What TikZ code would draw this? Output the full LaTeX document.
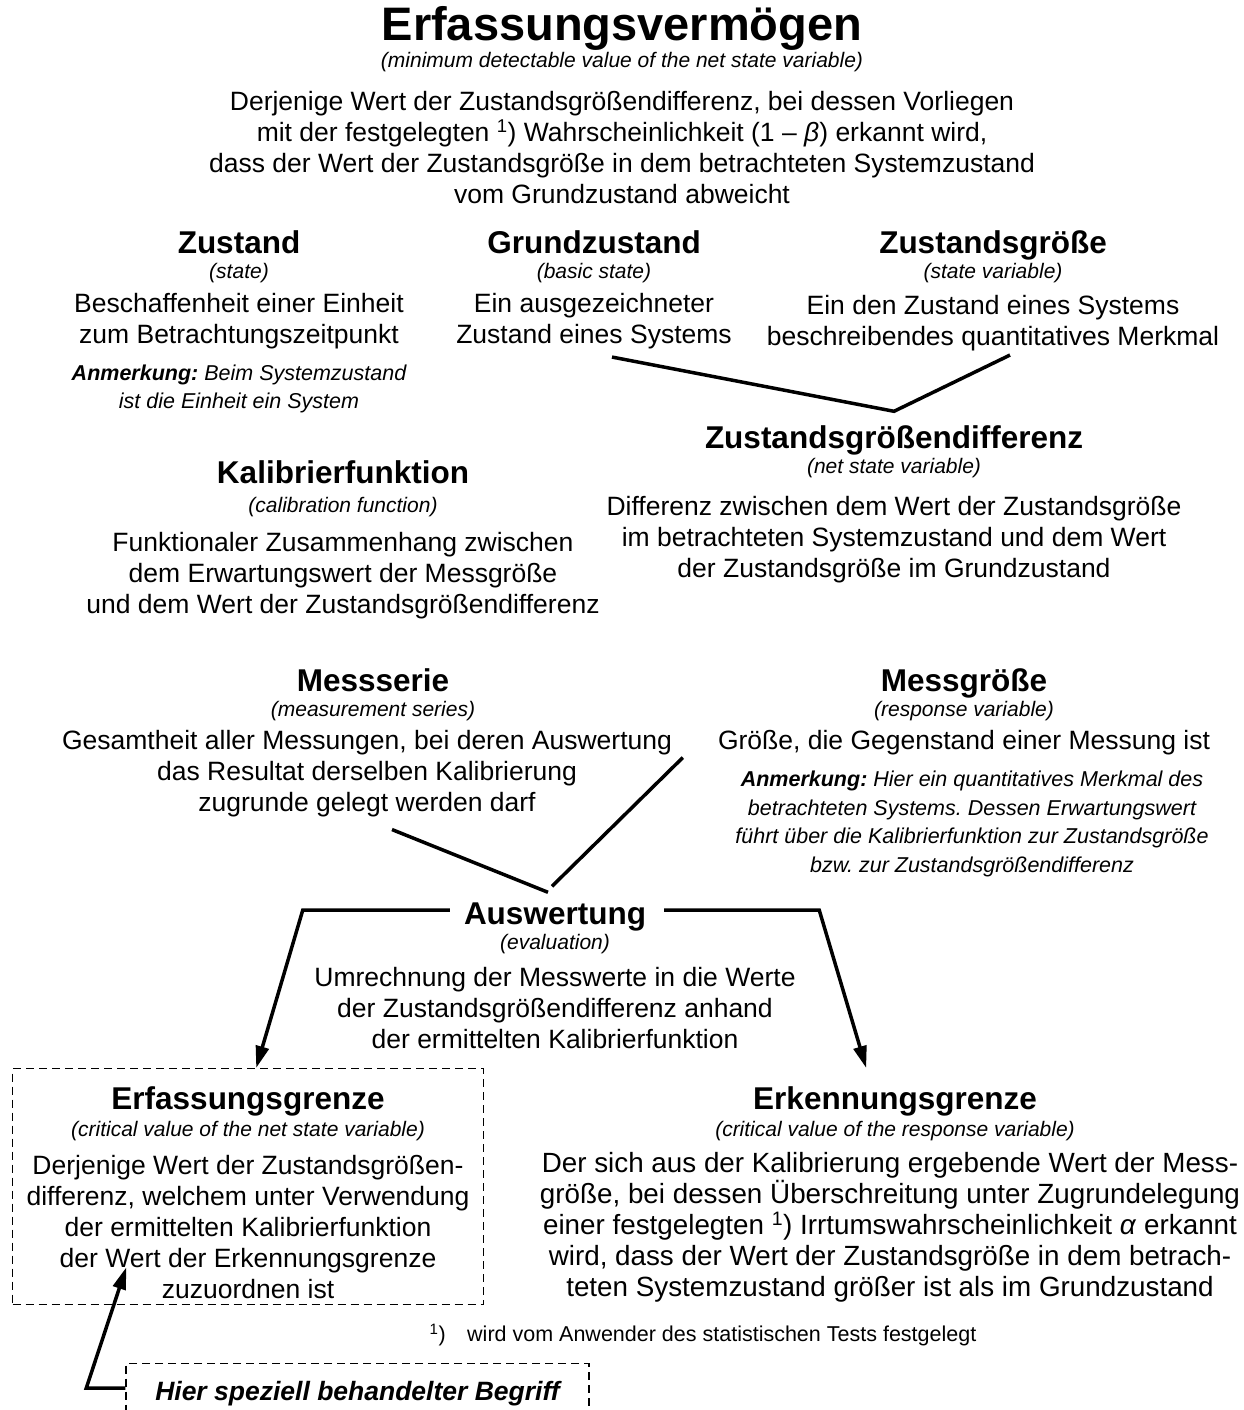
\documentclass[tikz,border=0pt]{standalone}
\usepackage{fontspec}
\setmainfont{Liberation Sans}
\usetikzlibrary{arrows.meta}
\frenchspacing

\tikzset{
  headline/.style={font=\fontsize{31.5}{36}\selectfont\bfseries, inner sep=0pt, text height=23pt, text depth=0pt},
  subline/.style={font=\fontsize{21}{25}\selectfont\itshape, inner sep=0pt},
  bodytext/.style={align=center, font=\fontsize{26.5}{31}\selectfont, inner sep=0pt},
  notetext/.style={align=center, font=\fontsize{21.5}{28.8}\selectfont\itshape, inner sep=0pt},
  link/.style={line width=3.5pt},
  linkarrow/.style={link, -{Triangle[length=22pt,width=13pt]}},
  dashbox/.style={draw, dash pattern=on 8pt off 5pt, line width=1.4pt},
}

\begin{document}
\begin{tikzpicture}[x=1pt, y=-1pt]
  \useasboundingbox (0,0) rectangle (1244,1410);
  \clip (0,0) rectangle (1244,1410);

  % main term
  \node[headline, font=\fontsize{47}{54}\selectfont\bfseries, text height=34pt] (erfvHead) at (622,24) {Erfassungsvermögen};
  \node[subline] (erfvSub) at (622,62) {(minimum detectable value of the net state variable)};
  \node[bodytext] (erfvBody) at (622,148) {Derjenige Wert der Zustandsgrößendifferenz, bei dessen Vorliegen\\
    mit der festgelegten \textsuperscript{1}) Wahrscheinlichkeit (1 – \textit{β}) erkannt wird,\\
    dass der Wert der Zustandsgröße in dem betrachteten Systemzustand\\
    vom Grundzustand abweicht};

  % state terms
  \node[headline] (zustHead) at (239,242) {Zustand};
  \node[subline] (zustSub) at (239,273) {(state)};
  \node[bodytext] (zustBody) at (239,321) {Beschaffenheit einer Einheit\\zum Betrachtungszeitpunkt};
  \node[notetext] (zustNote) at (239,389) {\textbf{Anmerkung:} Beim Systemzustand\\ist die Einheit ein System};

  \node[headline] (grundHead) at (594,242) {Grundzustand};
  \node[subline] (grundSub) at (594,273) {(basic state)};
  \node[bodytext] (grundBody) at (594,321) {Ein ausgezeichneter\\Zustand eines Systems};

  \node[headline] (zgHead) at (993,242) {Zustandsgröße};
  \node[subline] (zgSub) at (993,273) {(state variable)};
  \node[bodytext] (zgBody) at (993,323) {Ein den Zustand eines Systems\\beschreibendes quantitatives Merkmal};

  \node[headline] (diffHead) at (894,437) {Zustandsgrößendifferenz};
  \node[subline] (diffSub) at (894,468) {(net state variable)};
  \node[bodytext] (diffBody) at (894,540) {Differenz zwischen dem Wert der Zustandsgröße\\
    im betrachteten Systemzustand und dem Wert\\der Zustandsgröße im Grundzustand};

  \node[headline] (kalHead) at (343,472) {Kalibrierfunktion};
  \node[subline] (kalSub) at (343,507) {(calibration function)};
  \node[bodytext] (kalBody) at (343,576) {Funktionaler Zusammenhang zwischen\\
    dem Erwartungswert der Messgröße\\und dem Wert der Zustandsgrößendifferenz};

  % measurement
  \node[headline] (mserHead) at (373,680) {Messserie};
  \node[subline] (mserSub) at (373,711) {(measurement series)};
  \node[bodytext] (mserBody) at (367,774) {Gesamtheit aller Messungen, bei deren Auswertung\\
    das Resultat derselben Kalibrierung\\zugrunde gelegt werden darf};

  \node[headline] (mgHead) at (964,680) {Messgröße};
  \node[subline] (mgSub) at (964,711) {(response variable)};
  \node[bodytext] (mgBody) at (964,743) {Größe, die Gegenstand einer Messung ist};
  \node[notetext] (mgNote) at (972,824) {\textbf{Anmerkung:} Hier ein quantitatives Merkmal des\\
    betrachteten Systems. Dessen Erwartungswert\\
    führt über die Kalibrierfunktion zur Zustandsgröße\\bzw. zur Zustandsgrößendifferenz};

  \node[headline] (auswHead) at (555,913) {Auswertung};
  \node[subline] (auswSub) at (555,944) {(evaluation)};
  \node[bodytext] (auswBody) at (555,1008) {Umrechnung der Messwerte in die Werte\\
    der Zustandsgrößendifferenz anhand\\der ermittelten Kalibrierfunktion};

  % limits
  \node[dashbox, minimum width=471, minimum height=236, anchor=north west] (erfgBox) at (12,1068) {};
  \node[headline] (erfgHead) at (248,1098) {Erfassungsgrenze};
  \node[subline] (erfgSub) at (248,1131) {(critical value of the net state variable)};
  \node[bodytext] (erfgBody) at (248,1227) {Derjenige Wert der Zustandsgrößen-\\
    differenz, welchem unter Verwendung\\der ermittelten Kalibrierfunktion\\
    der Wert der Erkennungsgrenze\\zuzuordnen ist};

  \node[headline] (erkHead) at (895,1098) {Erkennungsgrenze};
  \node[subline] (erkSub) at (895,1131) {(critical value of the response variable)};
  \node[bodytext, font=\fontsize{27.8}{31}\selectfont] (erkBody) at (890,1227) {Der sich aus der Kalibrierung ergebende Wert der Mess-\\
    größe, bei dessen Überschreitung unter Zugrundelegung\\
    einer festgelegten \textsuperscript{1}) Irrtumswahrscheinlichkeit \textit{α} erkannt\\
    wird, dass der Wert der Zustandsgröße in dem betrach-\\
    teten Systemzustand größer ist als im Grundzustand};

  \node[bodytext, font=\fontsize{21.5}{26}\selectfont] (footnote) at (703,1335) {\textsuperscript{1})\quad wird vom Anwender des statistischen Tests festgelegt};
  \node[dashbox, bodytext, font=\fontsize{26.5}{31}\selectfont\bfseries\itshape, minimum width=463, minimum height=60, anchor=north] (hierBox) at (357.5,1363) {Hier speziell behandelter Begriff};

  % connectors
  \draw[link] ([shift={(18,8)}]grundBody.south) -- ([yshift=14pt]diffHead.north) -- ([shift={(17,4)}]zgBody.south);
  \draw[link] ([shift={(25,12)}]mserBody.south) -- ([shift={(-7,-9)}]auswHead.north);
  \draw[link] ([shift={(-3,-15)}]auswHead.north) -- ([shift={(-35,2)}]mgBody.south west);
  \draw[linkarrow] ([shift={(-14,-3)}]auswHead.west) -- ++(-147,0) -- ([xshift=8pt]erfgBox.north);
  \draw[linkarrow] ([shift={(18,-3)}]auswHead.east) -- ++(155,0) -- ([xshift=618pt]erfgBox.north);
  \draw[linkarrow] (hierBox.west |- 0,1388) -- ++(-39,0) -- ([xshift=-122pt,yshift=38pt]erfgBox.south);
\end{tikzpicture}
\end{document}
